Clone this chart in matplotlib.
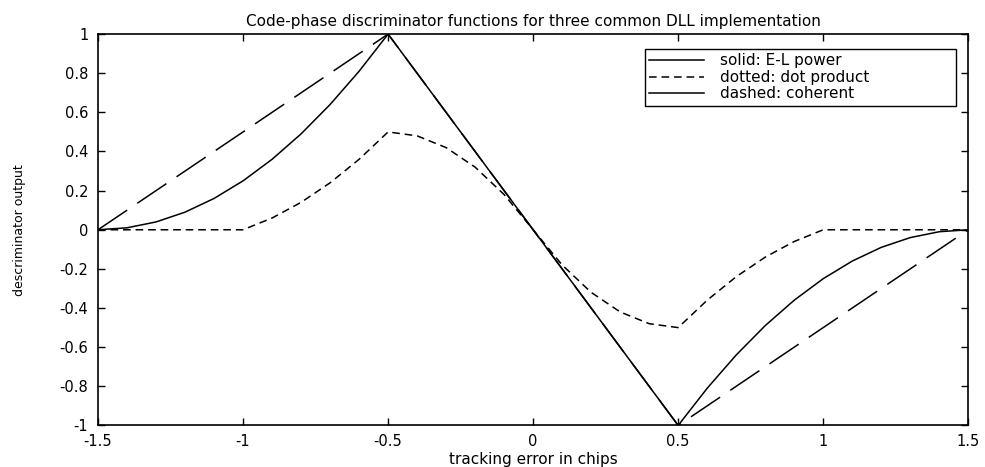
import matplotlib
matplotlib.use("Agg")
import matplotlib.pyplot as plt

# tracking error (chips)
x = [-1.5, -1.4, -1.3, -1.2, -1.1, -1.0, -0.9, -0.8, -0.7, -0.6, -0.5,
     -0.4, -0.3, -0.2, -0.1, 0.0, 0.1, 0.2, 0.3, 0.4, 0.5,
     0.6, 0.7, 0.8, 0.9, 1.0, 1.1, 1.2, 1.3, 1.4, 1.5]

# solid: E-L power
el_power = [0.0, 0.01, 0.04, 0.09, 0.16, 0.25, 0.36, 0.49, 0.64, 0.81, 1.0,
            0.8, 0.6, 0.4, 0.2, 0.0, -0.2, -0.4, -0.6, -0.8, -1.0,
            -0.81, -0.64, -0.49, -0.36, -0.25, -0.16, -0.09, -0.04, -0.01, 0.0]

# dotted: dot product
dot_product = [0.0, 0.0, 0.0, 0.0, 0.0, 0.0, 0.06, 0.14, 0.24, 0.36, 0.5,
               0.48, 0.42, 0.32, 0.18, 0.0, -0.18, -0.32, -0.42, -0.48, -0.5,
               -0.36, -0.24, -0.14, -0.06, 0.0, 0.0, 0.0, 0.0, 0.0, 0.0]

# dashed: coherent
coherent = [0.0, 0.1, 0.2, 0.3, 0.4, 0.5, 0.6, 0.7, 0.8, 0.9, 1.0,
            0.8, 0.6, 0.4, 0.2, 0.0, -0.2, -0.4, -0.6, -0.8, -1.0,
            -0.9, -0.8, -0.7, -0.6, -0.5, -0.4, -0.3, -0.2, -0.1, 0.0]

xticks = [-1.5, -1, -0.5, 0, 0.5, 1, 1.5]
xticklabels = ['-1.5', '-1', '-0.5', '0', '0.5', '1', '1.5']
yticks = [-1, -0.8, -0.6, -0.4, -0.2, 0, 0.2, 0.4, 0.6, 0.8, 1]
yticklabels = ['-1', '-0.8', '-0.6', '-0.4', '-0.2', '0', '0.2', '0.4', '0.6', '0.8', '1']

plt.rcParams['font.family'] = ['DejaVu Sans']
plt.rcParams['font.size'] = 10

fig = plt.figure(figsize=(9.85, 4.67), dpi=100)
ax = fig.add_axes([0.0995, 0.089, 0.8835, 0.838])

ax.plot(x, el_power, color='black', linewidth=1.1, label='solid: E-L power')
ax.plot(x, dot_product, color='black', linewidth=1.1, dashes=(5, 3.2),
        label='dotted: dot product')
ax.plot(x, coherent, color='black', linewidth=1.1, dashes=(23, 8),
        label='dashed: coherent')

ax.set_xlim(-1.5, 1.5)
ax.set_ylim(-1, 1)
ax.set_xticks(xticks)
ax.set_xticklabels(xticklabels)
ax.set_yticks(yticks)
ax.set_yticklabels(yticklabels)
ax.tick_params(direction='in', length=5, width=1, top=True, right=True,
               labelsize=10.5)
ax.tick_params(axis='x', pad=6)
ax.tick_params(axis='y', pad=7)
for s in ax.spines.values():
    s.set_linewidth(1.2)

ax.set_title('Code-phase discriminator functions for three common DLL implementation',
             fontsize=11, pad=6)
ax.set_xlabel('tracking error in chips', fontsize=11, labelpad=2)
ax.set_ylabel('descriminator output', fontsize=9, labelpad=24)

# legend box spans the same area as in the original figure
leg = ax.legend(loc='upper left', bbox_to_anchor=(0.6195, 0.826, 0.375, 0.156),
                mode='expand', fancybox=False, edgecolor='black', framealpha=1,
                handlelength=3.6, borderpad=0.3, labelspacing=0.1,
                handletextpad=1.0, fontsize=11)
leg.get_frame().set_linewidth(1.0)
# the long dash is longer than the legend sample, so it shows as one stroke
leg.get_lines()[2].set_linestyle('-')

fig.savefig('out.png', dpi=100)
